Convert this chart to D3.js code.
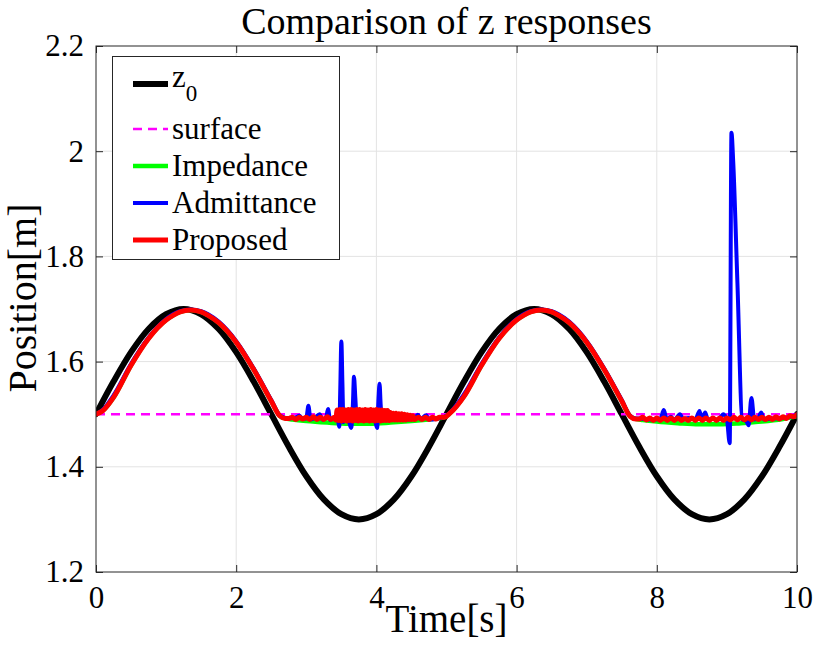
<!DOCTYPE html>
<html>
<head>
<meta charset="utf-8">
<script src="https://cdn.jsdelivr.net/npm/d3@7"></script>
<style>
  body { margin: 0; background: #fff; }
  svg { display: block; }
  text { font-family: "Liberation Serif", "Times New Roman", Times, serif; fill: #000; }
</style>
</head>
<body>
<svg id="chart" width="815" height="645" font-family="Liberation Serif"></svg>
<script>
// ---------------- data ----------------
const titleText = "Comparison of z responses";
const xLabel = "Time[s]";
const yLabel = "Position[m]";
const xTicks = [0, 2, 4, 6, 8, 10];
const xTickLabels = ["0", "2", "4", "6", "8", "10"];
const yTicks = [1.2, 1.4, 1.6, 1.8, 2.0, 2.2];
const yTickLabels = ["1.2", "1.4", "1.6", "1.8", "2", "2.2"];
const seriesNames = ["z0", "surface", "Impedance", "Admittance", "Proposed"];
const seriesColors = ["#000000", "#ff00ff", "#00ff00", "#0000ff", "#ff0000"];

const z0Time = [0,0.25,0.5,0.75,1,1.25,1.5,1.75,2,2.25,2.5,2.75,3,3.25,3.5,3.75,4,4.25,4.5,4.75,5,
  5.25,5.5,5.75,6,6.25,6.5,6.75,7,7.25,7.5,7.75,8,8.25,8.5,8.75,9,9.25,9.5,9.75,10];
const z0Value = [1.5,1.562,1.618,1.662,1.690,1.7,1.690,1.662,1.618,1.562,1.5,1.438,1.382,1.338,1.310,1.3,1.310,1.338,1.382,1.438,1.5,
  1.562,1.618,1.662,1.690,1.7,1.690,1.662,1.618,1.562,1.5,1.438,1.382,1.338,1.310,1.3,1.310,1.338,1.382,1.438,1.5];

const surfaceTime = [0, 10];
const surfaceValue = [1.5, 1.5];

const impedance = [
  [0,1.5],[0.1,1.507],[0.25,1.532],[0.5,1.593],[0.75,1.644],[1.0,1.679],[1.1,1.688],[1.2,1.6945],[1.35,1.698],
  [1.5,1.6945],[1.6,1.688],[1.75,1.674],[2.0,1.637],[2.25,1.585],[2.5,1.525],[2.62,1.497],[2.7,1.492],[2.8,1.49],
  [3.0,1.487],[3.3,1.484],[3.6,1.482],[3.9,1.482],[4.2,1.484],[4.5,1.487],[4.8,1.491],[4.97,1.494],[5.05,1.502],
  [5.25,1.534],[5.5,1.593],[5.75,1.644],[6.0,1.679],[6.1,1.688],[6.2,1.6945],[6.35,1.698],[6.5,1.6945],[6.6,1.688],
  [6.75,1.674],[7.0,1.637],[7.25,1.585],[7.5,1.525],[7.62,1.496],[7.7,1.491],[7.8,1.489],[8.0,1.486],[8.3,1.483],
  [8.6,1.481],[8.9,1.481],[9.2,1.483],[9.5,1.486],[9.8,1.491],[10,1.496]
];

const admittance = [
  [0,1.5],[0.1,1.509],[0.25,1.536],[0.5,1.596],[0.75,1.646],[1.0,1.681],[1.1,1.69],[1.2,1.696],[1.35,1.699],
  [1.5,1.696],[1.6,1.69],[1.75,1.676],[2.0,1.639],[2.25,1.587],[2.5,1.527],[2.62,1.498],[2.7,1.493],[2.75,1.492],
  [2.85,1.494],[2.9,1.497],[2.95,1.491],[3.0,1.492],[3.03,1.516],[3.06,1.49],[3.12,1.493],[3.19,1.5],[3.23,1.49],
  [3.28,1.492],[3.31,1.51],[3.34,1.489],[3.40,1.493],[3.45,1.49],[3.47,1.476],[3.485,1.55],[3.50,1.638],[3.515,1.56],
  [3.53,1.485],[3.56,1.495],[3.60,1.49],[3.64,1.474],[3.665,1.52],[3.68,1.571],[3.70,1.53],[3.72,1.488],[3.78,1.496],
  [3.85,1.49],[3.92,1.494],[3.98,1.488],[4.01,1.474],[4.03,1.53],[4.045,1.558],[4.06,1.52],[4.08,1.488],[4.14,1.495],
  [4.19,1.498],[4.25,1.49],[4.35,1.494],[4.45,1.49],[4.55,1.493],[4.59,1.499],[4.63,1.491],[4.71,1.498],[4.75,1.49],
  [4.85,1.491],[4.97,1.495],[5.05,1.503],[5.25,1.538],[5.5,1.596],[5.75,1.646],[6.0,1.681],[6.1,1.69],[6.2,1.696],
  [6.35,1.699],[6.5,1.696],[6.6,1.69],[6.75,1.676],[7.0,1.639],[7.25,1.587],[7.5,1.527],[7.62,1.497],[7.7,1.492],
  [7.75,1.492],[7.9,1.49],[8.05,1.491],[8.1,1.508],[8.14,1.49],[8.2,1.495],[8.25,1.489],[8.33,1.5],[8.38,1.49],
  [8.45,1.493],[8.55,1.49],[8.61,1.506],[8.64,1.49],[8.69,1.503],[8.73,1.489],[8.8,1.492],[8.87,1.489],[8.95,1.5],
  [9.0,1.49],[9.04,1.445],[9.065,2.035],[9.09,1.98],[9.15,1.75],[9.22,1.49],[9.27,1.488],[9.31,1.479],[9.35,1.531],
  [9.39,1.49],[9.45,1.494],[9.49,1.503],[9.53,1.49],[9.65,1.492],[9.8,1.493],[9.95,1.497],[10,1.5]
];

const proposed = [
  [0,1.5],[0.1,1.507],[0.25,1.532],[0.5,1.593],[0.75,1.644],[1.0,1.679],[1.1,1.688],[1.2,1.6945],[1.35,1.698],
  [1.5,1.6945],[1.6,1.688],[1.75,1.674],[2.0,1.637],[2.25,1.585],[2.5,1.525],[2.62,1.497],[2.7,1.492],[2.75,1.492],
  [2.8,1.494],[2.85,1.49],[2.9,1.494],[2.95,1.491],[3.0,1.494],[3.05,1.49],[3.1,1.495],[3.15,1.49],[3.2,1.494],
  [3.25,1.49],[3.3,1.495],[3.35,1.49],[3.4,1.494],
  [3.42,1.489],[3.44,1.508],[3.46,1.488],[3.48,1.509],[3.50,1.487],[3.52,1.509],[3.54,1.488],[3.56,1.508],
  [3.58,1.487],[3.60,1.509],[3.62,1.488],[3.64,1.509],[3.66,1.487],[3.68,1.508],[3.70,1.488],[3.72,1.509],
  [3.74,1.487],[3.76,1.509],[3.78,1.488],[3.80,1.508],[3.82,1.487],[3.84,1.509],[3.86,1.488],[3.88,1.508],
  [3.90,1.487],[3.92,1.509],[3.94,1.488],[3.96,1.508],[3.98,1.487],[4.00,1.509],[4.02,1.488],[4.04,1.508],
  [4.06,1.487],[4.08,1.508],[4.10,1.488],[4.12,1.507],[4.14,1.488],[4.16,1.507],[4.18,1.488],[4.20,1.503],
  [4.22,1.489],[4.24,1.502],[4.26,1.489],[4.28,1.502],[4.30,1.489],[4.32,1.501],[4.34,1.489],[4.36,1.501],
  [4.38,1.489],[4.40,1.500],[4.42,1.489],[4.44,1.499],[4.46,1.49],[4.48,1.498],[4.50,1.49],[4.52,1.497],[4.54,1.49],
  [4.6,1.494],[4.65,1.49],[4.7,1.494],[4.75,1.49],[4.8,1.494],[4.85,1.491],[4.9,1.494],[4.97,1.494],
  [5.05,1.502],[5.25,1.534],[5.5,1.593],[5.75,1.644],[6.0,1.679],[6.1,1.688],[6.2,1.6945],[6.35,1.698],[6.5,1.6945],
  [6.6,1.688],[6.75,1.674],[7.0,1.637],[7.25,1.585],[7.5,1.525],[7.62,1.496],[7.7,1.491],[7.75,1.491],[7.8,1.494],
  [7.85,1.489],[7.9,1.493],[7.95,1.488],[8.0,1.493],[8.05,1.488],[8.1,1.493],[8.15,1.488],[8.2,1.493],[8.25,1.488],
  [8.3,1.493],[8.35,1.488],[8.4,1.492],[8.45,1.488],[8.5,1.493],[8.55,1.488],[8.6,1.493],[8.65,1.488],[8.7,1.493],
  [8.75,1.488],[8.8,1.493],[8.85,1.488],[8.9,1.493],[8.95,1.488],[9.0,1.493],[9.05,1.489],[9.1,1.494],[9.15,1.489],
  [9.2,1.494],[9.25,1.489],[9.3,1.494],[9.35,1.489],[9.4,1.494],[9.45,1.49],[9.5,1.494],[9.55,1.49],[9.6,1.494],
  [9.65,1.49],[9.7,1.495],[9.75,1.491],[9.8,1.495],[9.85,1.492],[9.9,1.497],[9.95,1.495],[10,1.499]
];

// ---------------- layout ----------------
const svg = d3.select("#chart");
const W = 815, H = 645;
const plot = { left: 96, right: 797, top: 46, bottom: 572 };
const axisColor = "#262626";
const gridColor = "#e3e3e3";
const serif = "Liberation Serif";

svg.append("rect").attr("width", W).attr("height", H).attr("fill", "#fff");

const x = d3.scaleLinear().domain([0, 10]).range([plot.left, plot.right]);
const y = d3.scaleLinear().domain([1.2, 2.2]).range([plot.bottom, plot.top]);

// grid
const grid = svg.append("g");
grid.selectAll(".gx").data(xTicks.slice(1, -1)).enter().append("line")
  .attr("x1", d => x(d)).attr("x2", d => x(d))
  .attr("y1", plot.top).attr("y2", plot.bottom)
  .attr("stroke", gridColor).attr("stroke-width", 1);
grid.selectAll(".gy").data(yTicks.slice(1, -1)).enter().append("line")
  .attr("x1", plot.left).attr("x2", plot.right)
  .attr("y1", d => y(d)).attr("y2", d => y(d))
  .attr("stroke", gridColor).attr("stroke-width", 1);

// clip
svg.append("defs").append("clipPath").attr("id", "clip")
  .append("rect").attr("x", plot.left).attr("y", plot.top)
  .attr("width", plot.right - plot.left).attr("height", plot.bottom - plot.top);

const lines = svg.append("g").attr("clip-path", "url(#clip)");
const smoothLine = d3.line().x(d => x(d[0])).y(d => y(d[1])).curve(d3.curveCatmullRom);
const dataLine = d3.line().x(d => x(d[0])).y(d => y(d[1])).curve(d3.curveMonotoneX);

const z0Data = z0Time.map((t, i) => [t, z0Value[i]]);
const surfaceData = surfaceTime.map((t, i) => [t, surfaceValue[i]]);

function drawSeries(data, gen, color, width, dash) {
  const p = lines.append("path").datum(data).attr("d", gen)
    .attr("fill", "none").attr("stroke", color).attr("stroke-width", width)
    .attr("stroke-linejoin", "round").attr("stroke-linecap", dash ? "butt" : "round");
  if (dash) p.attr("stroke-dasharray", dash);
}
drawSeries(z0Data, smoothLine, seriesColors[0], 6);
drawSeries(surfaceData, dataLine, seriesColors[1], 2.5, "9,6");
drawSeries(impedance, dataLine, seriesColors[2], 4.5);
drawSeries(admittance, dataLine, seriesColors[3], 4);
drawSeries(proposed, dataLine, seriesColors[4], 5);

// axes
const fontSize = 31;
const xAxis = d3.axisBottom(x).tickValues(xTicks).tickSizeInner(-7).tickSizeOuter(0).tickPadding(14)
  .tickFormat((d, i) => xTickLabels[i]);
const yAxis = d3.axisLeft(y).tickValues(yTicks).tickSizeInner(-7).tickSizeOuter(0).tickPadding(12)
  .tickFormat((d, i) => yTickLabels[i]);
const xAxisTop = d3.axisTop(x).tickValues(xTicks).tickSizeInner(-7).tickSizeOuter(0).tickFormat("");
const yAxisRight = d3.axisRight(y).tickValues(yTicks).tickSizeInner(-7).tickSizeOuter(0).tickFormat("");

function styleAxis(g) {
  g.attr("font-family", serif);
  g.select(".domain").remove();
  g.selectAll(".tick line").attr("stroke", axisColor).attr("stroke-width", 1);
  g.selectAll(".tick text").attr("font-family", serif).attr("font-size", fontSize).attr("fill", "#000");
}
svg.append("g").attr("transform", `translate(0,${plot.bottom})`).call(xAxis).call(styleAxis);
svg.append("g").attr("transform", `translate(${plot.left},0)`).call(yAxis).call(styleAxis);
svg.append("g").attr("transform", `translate(0,${plot.top})`).call(xAxisTop).call(styleAxis);
svg.append("g").attr("transform", `translate(${plot.right},0)`).call(yAxisRight).call(styleAxis);

svg.append("rect").attr("x", plot.left).attr("y", plot.top)
  .attr("width", plot.right - plot.left).attr("height", plot.bottom - plot.top)
  .attr("fill", "none").attr("stroke", axisColor).attr("stroke-width", 1);

// title and labels
svg.append("text").attr("x", (plot.left + plot.right) / 2).attr("y", 34)
  .attr("text-anchor", "middle").attr("font-family", serif).attr("font-size", 38).text(titleText);
svg.append("text").attr("x", (plot.left + plot.right) / 2).attr("y", 632)
  .attr("text-anchor", "middle").attr("font-family", serif).attr("font-size", 39).text(xLabel);
svg.append("text").attr("transform", `translate(36,${(plot.top + plot.bottom) / 2 - 11}) rotate(-90)`)
  .attr("text-anchor", "middle").attr("font-family", serif).attr("font-size", 40).text(yLabel);

// legend
const legend = svg.append("g").attr("font-family", serif);
legend.append("rect").attr("x", 112.5).attr("y", 56.5).attr("width", 227).attr("height", 203)
  .attr("fill", "#fff").attr("stroke", axisColor).attr("stroke-width", 1);
const legendY = [84, 129, 166, 203, 240];
const legendWidths = [6, 2.5, 4.5, 4, 5];
seriesNames.forEach((name, i) => {
  const ly = legendY[i];
  const ln = legend.append("line").attr("x1", 133).attr("x2", 168).attr("y1", ly).attr("y2", ly)
    .attr("stroke", seriesColors[i]).attr("stroke-width", legendWidths[i]);
  if (i === 1) ln.attr("stroke-dasharray", "9,6");
  if (i === 0) {
    const t = legend.append("text").attr("x", 172).attr("y", 87).attr("font-size", 31);
    t.append("tspan").text("z");
    t.append("tspan").attr("font-size", 23).attr("dy", 14).text("0");
  } else {
    legend.append("text").attr("x", 172).attr("y", ly + 10).attr("font-size", 31).text(name);
  }
});
</script>
</body>
</html>
